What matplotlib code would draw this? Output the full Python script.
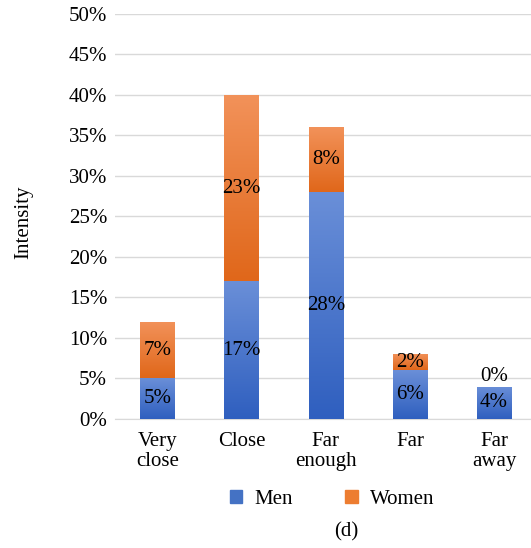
import numpy as np
import matplotlib
matplotlib.use("Agg")
import matplotlib.pyplot as plt
from matplotlib.colors import LinearSegmentedColormap
from matplotlib.patches import Patch

plt.rcParams['font.family'] = ['Liberation Serif', 'DejaVu Serif']

categories = ["Very\nclose", "Close", "Far\nenough", "Far", "Far\naway"]
men = [5, 17, 28, 6, 4]
women = [7, 23, 8, 2, 0]
series_names = ["Men", "Women"]
yticks = list(range(0, 55, 5))

men_color = "#4472C4"
women_color = "#ED7D31"
men_grad = LinearSegmentedColormap.from_list("mg", ["#2f5fbf", "#6a8fd8"])
women_grad = LinearSegmentedColormap.from_list("wg", ["#e0671a", "#f2925a"])

FS = 15

fig = plt.figure(figsize=(5.31, 5.48), dpi=100)
ax = fig.add_axes([0.2175, 0.2354, 0.792, 0.7391])

x = np.arange(len(categories))
width = 0.41
b_men = ax.bar(x, men, width, color=men_color, zorder=2)
b_women = ax.bar(x, women, width, bottom=men, color=women_color, zorder=2)

# vertical gradient overlay on every segment
grad = np.linspace(0, 1, 256).reshape(-1, 1)
for bars, cmap in ((b_men, men_grad), (b_women, women_grad)):
    for p in bars:
        x0, y0 = p.get_x(), p.get_y()
        w, h = p.get_width(), p.get_height()
        if h <= 0:
            continue
        im = ax.imshow(grad, cmap=cmap, origin="lower", aspect="auto",
                       extent=(x0, x0 + w, y0, y0 + h), zorder=3,
                       interpolation="bicubic")
        im.set_clip_path(p)

# value labels
for i in range(len(categories)):
    ax.text(x[i], men[i] / 2, f"{men[i]}%", ha="center", va="center",
            fontsize=FS, zorder=5)
    if women[i] > 0:
        ypos = men[i] + women[i] / 2
    else:
        ypos = men[i] + 1.3
    ax.text(x[i], ypos, f"{women[i]}%", ha="center", va="center",
            fontsize=FS, zorder=5)

ax.set_xlim(-0.5, len(categories) - 0.5)
ax.set_ylim(0, 50)
ax.set_yticks(yticks)
ax.set_yticklabels([f"{t}%" for t in yticks], fontsize=FS)
ax.set_xticks(x)
ax.set_xticklabels(categories, fontsize=FS, linespacing=1.1)
ax.tick_params(axis="x", length=0, pad=9)
ax.tick_params(axis="y", length=0, pad=6)
ax.grid(axis="y", color="#d9d9d9", linewidth=1, zorder=0)
for s in ("top", "right", "left"):
    ax.spines[s].set_visible(False)
ax.spines["bottom"].set_color("#d9d9d9")
ax.set_axisbelow(True)

fig.text(0.045, 0.595, "Intensity", rotation=90, ha="center", va="center",
         fontsize=FS)

handles = [Patch(color=men_color), Patch(color=women_color)]
fig.legend(handles, series_names, loc="center", bbox_to_anchor=(0.626, 0.089),
           ncol=2, frameon=False, fontsize=FS, handlelength=0.6,
           handleheight=0.6, columnspacing=2.5, handletextpad=0.6)

fig.text(0.653, 0.029, "(d)", ha="center", va="center", fontsize=FS)

fig.savefig("out.png", dpi=100)
